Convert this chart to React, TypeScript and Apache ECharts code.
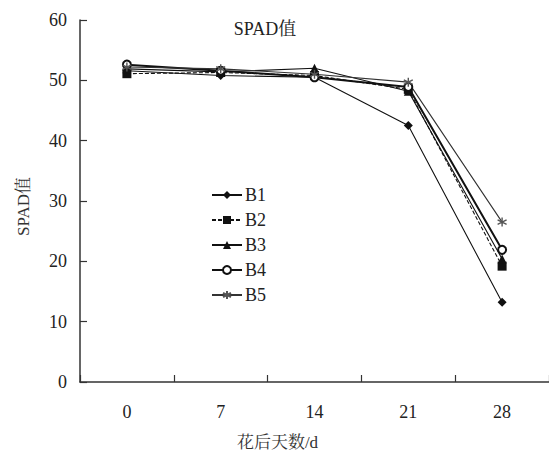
import React, { useEffect, useRef } from "react";
import * as echarts from "echarts";

const categories = ["0", "7", "14", "21", "28"];
const B1 = [51.6, 50.8, 50.5, 42.5, 13.2];
const B2 = [51.1, 51.3, 50.8, 48.5, 19.2];
const B3 = [51.9, 51.4, 52.0, 48.2, 20.4];
const B4 = [52.6, 51.6, 50.5, 48.9, 21.9];
const B5 = [52.2, 51.9, 51.0, 49.7, 26.5];
const seriesNames = ["B1", "B2", "B3", "B4", "B5"];

const SERIF = '"Liberation Serif", "DejaVu Serif", serif';
const SERIF_CJK = '"Liberation Serif", "Noto Serif CJK SC", "Noto Sans CJK SC", serif';
const ASTERISK = "path://M5,0 L5,10 M0.7,2.5 L9.3,7.5 M0.7,7.5 L9.3,2.5";

export default function App() {
  const ref = useRef<HTMLDivElement>(null);
  useEffect(() => {
    if (!ref.current) return;
    const chart = echarts.init(ref.current, undefined, { renderer: "svg" });
    const mk = (name: string, data: number[], symbol: string, size: number, extra: any = {}) => ({
      name,
      type: "line",
      data,
      symbol,
      symbolSize: size,
      showSymbol: true,
      lineStyle: { color: "#111", width: 1.1, ...(extra.lineStyle || {}) },
      itemStyle: { color: "#111", ...(extra.itemStyle || {}) },
      z: extra.z || 2,
    });
    chart.setOption({
      animation: false,
      title: {
        text: "SPAD值",
        left: 260,
        top: 15,
        textAlign: "center",
        textStyle: { fontFamily: SERIF_CJK, fontSize: 18, fontWeight: "normal", color: "#222" },
      },
      legend: {
        orient: "vertical",
        left: 206,
        top: 181,
        itemWidth: 30,
        itemHeight: 10,
        itemGap: 7,
        data: seriesNames,
        textStyle: { fontFamily: SERIF, fontSize: 18, color: "#222", padding: [0, 0, 0, -2] },
      },
      grid: { left: 80, right: 0, top: 20, bottom: 69, containLabel: false },
      xAxis: {
        type: "category",
        data: categories,
        boundaryGap: true,
        name: "花后天数/d",
        nameLocation: "middle",
        nameGap: 52,
        nameTextStyle: { fontFamily: SERIF_CJK, fontSize: 17, color: "#333", padding: [0, 74, 0, 0] },
        axisLine: { lineStyle: { color: "#333", width: 1.5 } },
        axisTick: { show: true, inside: true, length: 7, lineStyle: { color: "#333", width: 1.2 } },
        axisLabel: { margin: 21, fontFamily: SERIF, fontSize: 18, color: "#222" },
      },
      yAxis: {
        type: "value",
        min: 0,
        max: 60,
        interval: 10,
        name: "SPAD值",
        nameLocation: "middle",
        nameGap: 48,
        nameRotate: 90,
        nameTextStyle: { fontFamily: SERIF_CJK, fontSize: 17, color: "#333", padding: [0, 11, 0, 0] },
        splitLine: { show: false },
        axisLine: { show: true, lineStyle: { color: "#333", width: 1.5 } },
        axisTick: { show: true, inside: true, length: 7, lineStyle: { color: "#333", width: 1.2 } },
        axisLabel: { margin: 13, fontFamily: SERIF, fontSize: 18, color: "#222" },
      },
      series: [
        mk("B1", B1, "diamond", 9),
        mk("B2", B2, "rect", 9, { lineStyle: { type: [4, 2] } }),
        mk("B3", B3, "triangle", 9),
        mk("B4", B4, "emptyCircle", 8, {
          lineStyle: { width: 2 },
          itemStyle: { borderWidth: 1.5 },
        }),
        mk("B5", B5, ASTERISK, 9, {
          lineStyle: { color: "#333" },
          itemStyle: { color: "none", borderColor: "#555", borderWidth: 1.4 },
        }),
      ],
    });
    return () => chart.dispose();
  }, []);
  return (
    <div
      ref={ref}
      style={{ position: "fixed", left: 0, top: 0, width: 549, height: 456, background: "#fff" }}
    />
  );
}
